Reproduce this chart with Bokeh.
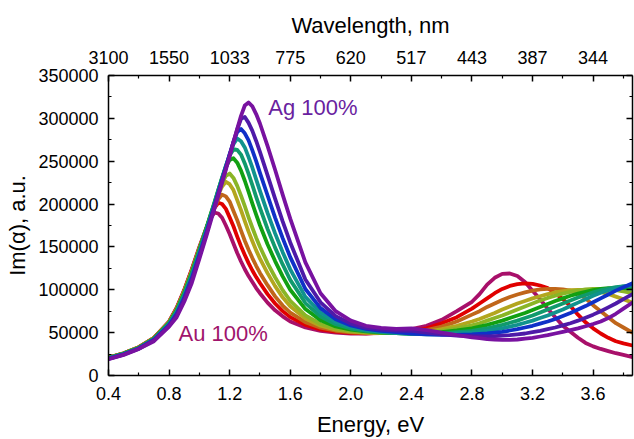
from bokeh.plotting import figure
from bokeh.models import (Range1d, LinearAxis, FixedTicker, PrintfTickFormatter, NumeralTickFormatter,
                          Label, CustomLabelingPolicy)
from bokeh.embed import file_html
from bokeh.resources import INLINE

# ---------------- data (Im(alpha) in thousands, a.u.) ----------------
energy_ev = [0.40, 0.50, 0.60, 0.70, 0.80, 0.85, 0.90, 0.95, 1.00,
             1.05, 1.075, 1.10, 1.125, 1.15, 1.175, 1.20, 1.225, 1.25, 1.275, 1.30, 1.325, 1.35, 1.375, 1.40,
             1.45, 1.50, 1.55, 1.60, 1.70, 1.80, 1.90, 2.00, 2.10, 2.20, 2.30, 2.40,
             2.50, 2.60, 2.70, 2.80, 2.85, 2.90, 2.95, 3.00, 3.05, 3.10, 3.15, 3.20, 3.25, 3.30, 3.35,
             3.40, 3.45, 3.50, 3.55, 3.60, 3.65, 3.70, 3.75, 3.80, 3.86]

au100 = [21, 26, 33, 44, 63, 79, 100, 124, 150,
         174, 184, 190, 189, 184, 175, 165, 154, 143, 133, 124, 116, 109, 102, 96,
         85, 76, 69, 63, 56, 52, 50, 49, 49, 50, 51.5, 54,
         58, 65, 75, 86, 95, 106, 114, 118.5, 119, 116, 109, 99, 89, 78, 68, 58, 51, 44, 38, 34, 31, 28.5, 26, 24, 21.5]
au90 = [21, 26, 33, 44, 62.7, 78.5, 99.3, 123.2, 149,
        173.5, 185.5, 195.5, 201.5, 200.1, 194.4, 184.5, 174.1, 162.1, 150.8, 140.7, 131.1, 122.5, 114.8, 107.9,
        95, 84, 75.1, 68.1, 59, 53.8, 51.1, 49.7, 49.2, 49.5, 50.5, 52,
        55, 61, 68, 78, 84, 90, 96, 101, 104.5, 106.5, 107.5, 107, 105, 102, 96, 89, 81, 71, 62, 55, 49, 44, 40, 37.5, 35]
au80 = [20.8, 25.8, 32.8, 43.6, 62.4, 77.9, 98.6, 122.4, 148,
        172.5, 184.5, 196, 205.5, 211, 209, 202.9, 192, 181.3, 168.9, 157.2, 146.7, 137, 128, 119.7,
        105.4, 92.3, 81.6, 73.3, 62.2, 55.7, 52.2, 50.4, 49.6, 49.5, 50, 51,
        53, 57, 63, 71, 75, 80, 84, 88, 91.5, 94.5, 97, 99, 100.5, 101, 101, 100.5, 99, 95.5, 90, 82, 75, 68, 61, 56, 50]
au70 = [20.7, 25.7, 32.7, 43.5, 62.1, 77.4, 97.9, 121.6, 147.9,
        173.5, 186.5, 199, 211, 220.5, 226, 223.2, 216.3, 204.6, 192.9, 180.1, 167.9, 156.7, 146, 136.4,
        119.4, 104.3, 91.2, 80.8, 66.4, 58.1, 53.5, 51.2, 50, 49.5, 49.5, 50,
        51, 54, 58, 63, 66, 69.5, 73, 77, 80.5, 84, 87, 90, 92.5, 95, 97, 98.5, 99.5, 100, 100, 99, 97.5, 95, 92, 89, 85]
au60 = [20.6, 25.6, 32.5, 43.3, 61.7, 76.9, 97.2, 120.8, 147.2,
        174, 187.5, 200.5, 213, 224.5, 233, 235.6, 230.5, 221.3, 209.9, 197.5, 184.6, 172.4, 160.8, 150.3,
        131.1, 114.6, 99.6, 87.2, 70.2, 60.1, 54.6, 52, 50.5, 49.5, 49.5, 49.5,
        50, 52, 55, 58.5, 61, 64, 67, 70, 73.5, 77, 80.5, 84, 87.5, 90.5, 93, 95.5, 97.5, 99, 100.5, 101, 101, 100.5, 99.5, 98, 96]
au50 = [20.5, 25.5, 32.4, 43.1, 61.4, 76.4, 96.5, 120.1, 146.5,
        174, 188.3, 202, 216.5, 230.5, 243, 251.5, 253.4, 248.3, 239.1, 227.2, 214.2, 200.5, 187.6, 175.3,
        153.1, 133.5, 115.7, 100, 77.5, 64.6, 57.3, 53.6, 51.5, 50, 49.5, 49,
        49, 50.5, 52.5, 55, 57, 59, 61.5, 64, 67, 70, 73, 76.5, 80, 83.5, 87, 90, 93, 95.5, 97.5, 99.5, 101, 102, 102, 102, 101]
au40 = [20.3, 25.3, 32.2, 42.7, 60.8, 75.3, 95.1, 118.5, 145.1,
        172.8, 187.2, 201.5, 216, 230.5, 244.5, 256.5, 264, 263.3, 257.7, 247.4, 235.3, 222, 208.5, 195.6,
        171.1, 149.2, 129.6, 111.6, 84.5, 68.8, 59.8, 54.8, 52, 50.5, 49.5, 48.5,
        48.5, 49, 50.5, 52, 53.5, 55, 57, 59, 61.5, 64, 67, 70, 73.5, 77, 80.5, 84, 87.5, 91, 94, 97, 99.5, 101.5, 103, 104, 104]
au30 = [20, 25, 31.9, 42.2, 59.9, 73.7, 93.1, 116.1, 143,
        171, 185.5, 200, 214.8, 229.5, 244, 258, 270, 276.5, 273.3, 266.1, 254.8, 242.4, 228.8, 215.5,
        189.7, 165.8, 143.9, 123.8, 91.7, 73.4, 62.6, 56.7, 53, 51, 49.5, 48.5,
        48, 48, 49, 50, 51, 52, 53.5, 55, 57, 59, 61.5, 64, 67, 70, 73.5, 77, 81, 85, 89, 93, 96.5, 99.5, 102, 104, 105.5]
au20 = [19.7, 24.7, 31.5, 41.7, 58.9, 72.1, 91, 113.7, 140.9,
        169.2, 183.9, 198.5, 213.3, 228.2, 243, 258, 272.5, 284, 287.5, 282.5, 274.3, 262.6, 250.1, 236.4,
        210.3, 184.2, 160.3, 138.1, 100.9, 78.6, 65.6, 58.4, 54.5, 52, 50.5, 49,
        48, 47.5, 47.5, 48, 48.5, 49, 50, 51, 52.5, 54, 56, 58, 60.5, 63, 66, 69.5, 73, 77, 81, 85.5, 90, 94.5, 99, 103, 107.5]
au10 = [19.4, 24.4, 31.2, 41.1, 58, 70.5, 88.9, 111.4, 138.8,
        167.4, 182.2, 197, 211.9, 226.8, 241.7, 257, 272.5, 287, 299.5, 301.5, 294.7, 285.4, 273.6, 260.8,
        233.7, 206.4, 179.8, 155.2, 112, 85.4, 69.3, 60.5, 55.5, 53.5, 52.5, 52,
        50, 48, 46.5, 46, 45.5, 45.5, 46, 46.5, 47, 48, 49, 50.5, 52, 54, 56, 58.5, 61, 64, 67.5, 71, 75, 79.5, 84, 89, 95]
ag100 = [19, 24, 31, 40, 57, 68, 86, 108, 136,
         165, 180, 195, 210, 225, 240, 256, 272, 288, 303, 315, 318.5, 314, 305, 294,
         268, 240, 211, 183, 132, 96, 75, 64, 58, 55.5, 54.5, 55,
         53, 50, 47, 44.5, 43.5, 42.5, 42, 41.5, 41.5, 42, 43, 44, 45.5, 47, 49, 51, 53, 55, 57.5, 60, 63, 67, 72, 78, 85]

series = [au100, au90, au80, au70, au60, au50, au40, au30, au20, au10, ag100]
colors = ["#A8106A", "#E00000", "#C0661A", "#B3A61E", "#8AB526", "#12A012",
          "#109A6C", "#10928E", "#1030C8", "#4E1AA8", "#7812A0"]

energy_ticks = [0.4, 0.8, 1.2, 1.6, 2.0, 2.4, 2.8, 3.2, 3.6]
energy_minor = [0.6, 1.0, 1.4, 1.8, 2.2, 2.6, 3.0, 3.4, 3.8]
wavelength_labels = ["3100", "1550", "1033", "775", "620", "517", "443", "387", "344"]
y_ticks = [0, 50000, 100000, 150000, 200000, 250000, 300000, 350000]
y_minor = [25000, 75000, 125000, 175000, 225000, 275000, 325000]

FONT = "Liberation Sans"

p = figure(width=634, height=439, output_backend="svg", toolbar_location=None,
           x_range=Range1d(0.4, 3.86), y_range=Range1d(0, 350000),
           min_border_left=108, min_border_right=2, min_border_top=75, min_border_bottom=64)
p.xgrid.visible = False
p.ygrid.visible = False
p.outline_line_color = None
p.background_fill_color = "white"
p.border_fill_color = "white"

for vals, col in zip(series, colors):
    p.line(energy_ev, [v * 1000 for v in vals], line_color=col, line_width=3.8,
           line_join="round", line_cap="round")


def style_axis(ax):
    ax.axis_line_width = 1.5
    ax.axis_line_color = "black"
    ax.major_tick_in = 6
    ax.major_tick_out = 0
    ax.minor_tick_in = 3
    ax.minor_tick_out = 0
    ax.major_tick_line_width = 1.5
    ax.minor_tick_line_width = 1.2
    ax.major_tick_line_color = "black"
    ax.minor_tick_line_color = "black"
    ax.major_label_text_font = FONT
    ax.major_label_text_font_size = "18px"
    ax.major_label_text_color = "black"
    ax.axis_label_text_font = FONT
    ax.axis_label_text_font_size = "22px"
    ax.axis_label_text_font_style = "normal"
    ax.axis_label_text_color = "black"


xax = p.xaxis[0]
xax.ticker = FixedTicker(ticks=energy_ticks, minor_ticks=energy_minor)
xax.formatter = PrintfTickFormatter(format="%.1f")
xax.axis_label = "Energy, eV"
style_axis(xax)
xax.major_label_standoff = 11
xax.axis_label_standoff = 9

yax = p.yaxis[0]
yax.ticker = FixedTicker(ticks=y_ticks, minor_ticks=y_minor)
yax.formatter = NumeralTickFormatter(format="0")
yax.axis_label = "Im(α), a.u."
style_axis(yax)
yax.major_label_standoff = 10
yax.axis_label_standoff = 5

top = LinearAxis(ticker=FixedTicker(ticks=energy_ticks, minor_ticks=energy_minor),
                 major_label_overrides=dict(zip(energy_ticks, wavelength_labels)),
                 axis_label="Wavelength, nm")
style_axis(top)
top.major_label_standoff = 12
top.axis_label_standoff = 10
p.add_layout(top, "above")

# right frame axis: ticks only, no labels drawn and no space reserved for them
right = LinearAxis(ticker=FixedTicker(ticks=y_ticks, minor_ticks=y_minor),
                   major_label_overrides={t: "" for t in y_ticks},
                   major_label_policy=CustomLabelingPolicy(
                       code="for (const i of indices) { indices.unset(i) }\nreturn indices"))
style_axis(right)
right.major_label_standoff = 0
p.add_layout(right, "right")

p.add_layout(Label(x=1.455, y=313000, text="Ag 100%", text_font=FONT, text_font_size="22px",
                   text_color="#6A1FA0", text_baseline="middle", text_align="left"))
p.add_layout(Label(x=0.862, y=49000, text="Au 100%", text_font=FONT, text_font_size="22px",
                   text_color="#A0146C", text_baseline="middle", text_align="left"))

open("out.html", "w").write(file_html(p, INLINE))
